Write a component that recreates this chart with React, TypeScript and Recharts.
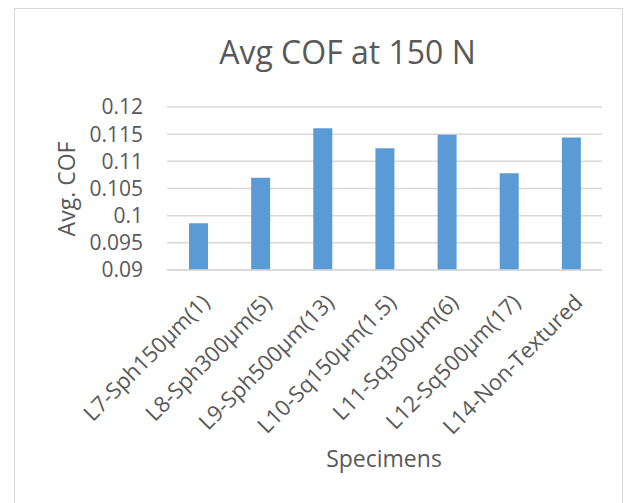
import React from "react";
import { BarChart, Bar, XAxis, YAxis, CartesianGrid, Customized } from "recharts";

const categories = [
  "L7-Sph150µm(1)",
  "L8-Sph300µm(5)",
  "L9-Sph500µm(13)",
  "L10-Sq150µm(1.5)",
  "L11-Sq300µm(6)",
  "L12-Sq500µm(17)",
  "L14-Non-Textured",
];
const avgCof = [0.0986, 0.107, 0.1161, 0.1124, 0.1149, 0.1078, 0.1144];
const yTicks = [0.09, 0.095, 0.1, 0.105, 0.11, 0.115, 0.12];
const yTickLabels = ["0.09", "0.095", "0.1", "0.105", "0.11", "0.115", "0.12"];
const chartTitle = "Avg COF at 150 N";
const yTitle = "Avg. COF";
const xTitle = "Specimens";

const data = categories.map((name, i) => ({ name, value: avgCof[i] }));

const FONT = "'Open Sans', sans-serif";
const TEXT = "#595959";
const GRID = "#D9D9D9";

const XTick = (props: any) => {
  const { x, y, payload } = props;
  return (
    <text
      transform={`translate(${x + 13},${y + 26}) rotate(-45)`}
      textAnchor="end"
      fontFamily={FONT}
      fontSize={22}
      fill={TEXT}
    >
      {payload.value}
    </text>
  );
};

const YTick = (props: any) => {
  const { x, y, payload } = props;
  const idx = yTicks.indexOf(payload.value);
  return (
    <text x={x} y={y} dy="0.355em" textAnchor="end" fontFamily={FONT} fontSize={21} fill={TEXT}>
      {idx >= 0 ? yTickLabels[idx] : String(payload.value)}
    </text>
  );
};

const Titles = () => (
  <g fontFamily={FONT} fill={TEXT}>
    <text x={347.5} y={64} textAnchor="middle" fontSize={32}>
      {chartTitle}
    </text>
    <text transform="translate(74.5,189) rotate(-90)" textAnchor="middle" fontSize={23}>
      {yTitle}
    </text>
    <text x={384} y={467} textAnchor="middle" fontSize={23}>
      {xTitle}
    </text>
  </g>
);

export default function App() {
  return (
    <div style={{ position: "absolute", left: 0, top: 0, width: 632, height: 503, overflow: "hidden", background: "#fff" }}>
      <div
        style={{
          position: "absolute",
          left: 14,
          top: 8,
          width: 609,
          height: 495,
          borderTop: "1.5px solid #D9D9D9",
          borderLeft: "1.5px solid #D9D9D9",
          borderRight: "1.5px solid #D9D9D9",
          boxSizing: "border-box",
        }}
      />
      <div style={{ position: "absolute", left: 0, top: 0 }}>
        <BarChart
          width={632}
          height={503}
          data={data}
          margin={{ top: 107, right: 30, left: 0, bottom: 0 }}
          barCategoryGap={0}
        >
          <CartesianGrid vertical={false} stroke={GRID} strokeWidth={1.5} />
          <XAxis
            dataKey="name"
            interval={0}
            height={233}
            tickLine={false}
            axisLine={{ stroke: GRID, strokeWidth: 1.5 }}
            tick={<XTick />}
          />
          <YAxis
            width={167}
            domain={[0.09, 0.12]}
            ticks={yTicks}
            allowDataOverflow
            axisLine={false}
            tickLine={false}
            tickMargin={18}
            tick={<YTick />}
          />
          <Bar dataKey="value" fill="#5B9BD5" barSize={19} isAnimationActive={false} />
          <Customized component={Titles} />
        </BarChart>
      </div>
    </div>
  );
}
